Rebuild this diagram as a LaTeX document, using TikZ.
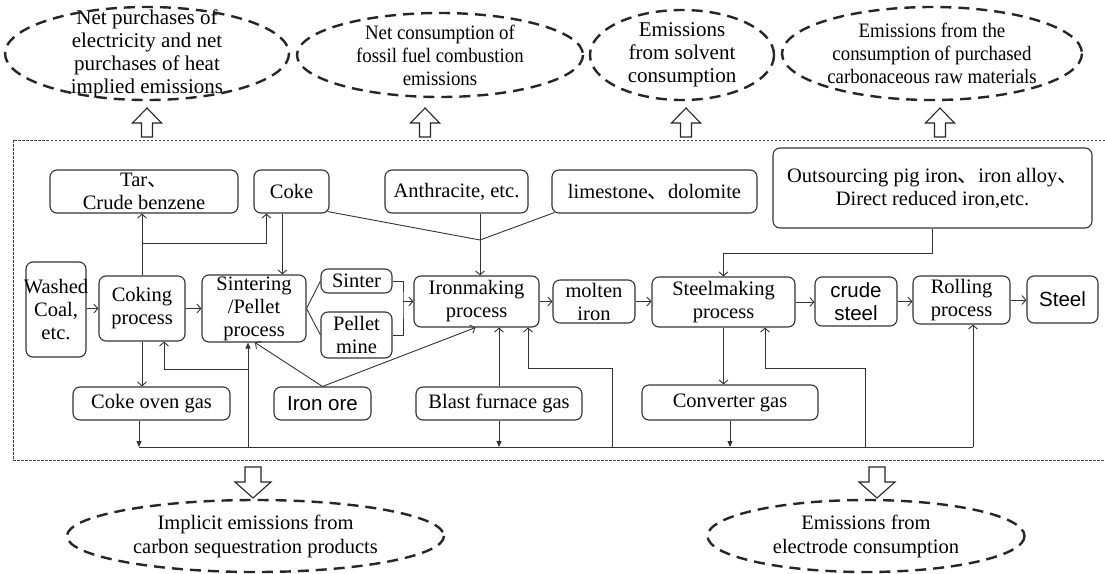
\documentclass[tikz,border=0pt]{standalone}
\usepackage{fontspec}
\setmainfont{Liberation Serif}
\newfontfamily\arialfont{Liberation Sans}
\newfontfamily\narrowfont[FakeStretch=0.92]{Liberation Serif}
\newfontfamily\cjkfont{Noto Sans CJK SC}
\newcommand\dunhao{{\cjkfont 、}}
\usetikzlibrary{arrows.meta}
\usetikzlibrary{calc}

\begin{document}
\begin{tikzpicture}[x=1pt,y=-1pt,
	box/.style={draw=black!80,line width=1.1pt,rounded corners=7pt,inner sep=0pt,align=center,font=\fontsize{20.5}{23}\selectfont},
	emis/.style={inner sep=0pt,align=center,font=\fontsize{21}{23}\selectfont},
	ring/.style={draw=black!85,dash pattern=on 11pt off 7pt,line width=2.4pt},
	wire/.style={draw=black!80,line width=0.9pt},
	arr/.style={wire,-{Straight Barb[length=4pt,width=9pt]}},
	farr/.style={wire,-{Triangle[length=6pt,width=5pt]}},
	hollow/.style={draw=black!85,line width=1.1pt,fill=white},
	frame/.style={draw=black!75,line width=0.8pt,dash pattern=on 2.5pt off 1.5pt}]
	\useasboundingbox (0,0) rectangle (1105,573);
	\draw (147,53.5) node (e1) [emis] {Net purchases of\\electricity and net\\purchases of heat\\implied emissions};
	\draw (440,55) node (e2) [emis,font=\narrowfont\fontsize{20.5}{23}\selectfont] {Net consumption of\\fossil fuel combustion\\emissions};
	\draw (682,55) node (e3) [emis] {Emissions\\from solvent\\consumption};
	\draw (932,53.5) node (e4) [emis,font=\narrowfont\fontsize{20.5}{23}\selectfont] {Emissions from the\\consumption of purchased\\carbonaceous raw materials};
	\draw (255.5,536) node (e5) [emis,font=\fontsize{20.5}{24}\selectfont] {Implicit emissions from\\carbon sequestration products};
	\draw (866,536) node (e6) [emis,font=\fontsize{20.5}{24}\selectfont] {Emissions from\\electrode consumption};
	\foreach \e/\rx/\ry in {e1/142/46.5,e2/143/42,e3/92/45,e4/150/46.5,e5/188.5/36,e6/158.5/36}
		\draw[ring] (\e) ellipse [x radius=\rx,y radius=\ry];
	\foreach \x in {147,425,686,940}
		\draw[hollow] (\x,137) ++(-5.5,0) -- ++(0,-14) -- ++(-9,0) -- ++(14.5,-15) -- ++(14.5,15) -- ++(-9,0) -- ++(0,14) -- cycle;
	\foreach \x in {253,877}
		\draw[hollow] (\x,467) ++(-8,0) -- ++(0,15) -- ++(-10,0) -- ++(18,16) -- ++(18,-16) -- ++(-10,0) -- ++(0,-15) -- cycle;
	\draw[frame] (1105,140) -- (13,140) -- (13,460) -- (1105,460);

	\draw (144,191.5) node (tar) [box,minimum width=188,minimum height=43] {Tar\dunhao\\Crude benzene};
	\draw (291.5,191.5) node (coke) [box,minimum width=75,minimum height=43] {Coke};
	\draw (456.5,191.5) node (anth) [box,minimum width=143,minimum height=43] {Anthracite, etc.};
	\draw (654.5,191.5) node (lime) [box,minimum width=205,minimum height=43] {limestone\dunhao dolomite};
	\draw (932.5,188) node (outs) [box,minimum width=319,minimum height=80] {Outsourcing pig iron\dunhao iron alloy\dunhao\\Direct reduced iron,etc.};

	\draw (56,309.5) node (washed) [box,minimum width=60,minimum height=95] {\makebox[0pt]{Washed}\\Coal,\\etc.};
	\draw (142,308.5) node (coking) [box,minimum width=86,minimum height=65] {Coking\\process};
	\draw (254,308.5) node (sint) [box,minimum width=104,minimum height=67] {Sintering\\/Pellet\\process};
	\draw (356.5,281) node (sinter) [box,minimum width=71,minimum height=24] {Sinter};
	\draw (356.5,335) node (pellet) [box,minimum width=71,minimum height=46] {Pellet\\mine};
	\draw (476.5,301.5) node (ironmk) [box,minimum width=125,minimum height=51] {Ironmaking\\process};
	\draw (594,301.5) node (molten) [box,minimum width=82,minimum height=43] {molten\\iron};
	\draw (723.5,302) node (steelmk) [box,minimum width=143,minimum height=50] {Steelmaking\\process};
	\draw (856,301.5) node (crude) [box,minimum width=82,minimum height=49,font=\arialfont\fontsize{20.5}{23}\selectfont] {crude\\steel};
	\draw (961.5,300) node (rolling) [box,minimum width=97,minimum height=48] {Rolling\\process};
	\draw (1062.5,299.5) node (steel) [box,minimum width=71,minimum height=47,font=\arialfont\fontsize{20.5}{23}\selectfont] {Steel};

	\draw (151.5,403.5) node (cog) [box,minimum width=157,minimum height=33] {Coke oven gas};
	\draw (322.5,403.5) node (ore) [box,minimum width=97,minimum height=33,font=\arialfont\fontsize{20.5}{23}\selectfont] {Iron ore};
	\draw (499,403.5) node (bfg) [box,minimum width=166,minimum height=33] {Blast furnace gas};
	\draw (730,402.5) node (cvg) [box,minimum width=176,minimum height=35] {Converter gas};

	\coordinate (tj) at (142,243);
	\coordinate (ij) at (480,240);
	\coordinate (sj) at (403,301.5);
	\coordinate (busl) at (139,447);
	\coordinate (busr) at (973,447);

	\draw[arr] (washed.east |- coking.west) -- (coking.west);
	\draw[arr] (coking.east) -- (sint.west);
	\draw[arr] (coking.north) -- (coking.north |- tar.south);
	\draw[arr] (tj) -| ([xshift=13pt]coke.south west);
	\draw[arr] ([xshift=29pt]coke.south west) -- ([xshift=29pt]coke.south west |- sint.north);
	\draw[wire] ([xshift=-2pt,yshift=2pt]coke.south east) -- (ij);
	\draw[wire] ([xshift=3pt,yshift=1pt]lime.south west) -- (ij);
	\draw[wire] (ij |- anth.south) -- (ij);
	\draw[arr] (ij) -- (ij |- ironmk.north);
	\draw[wire] (sint.east) -- (sinter.west);
	\draw[wire] (sint.east) -- (pellet.west);
	\draw[wire] (sinter.east) -| (sj) |- (pellet.east);
	\draw[arr] (sj) -- (ironmk.west);
	\foreach \a/\b in {ironmk/molten,molten/steelmk,steelmk/crude,crude/rolling,rolling/steel}
		\draw[arr] (\a.east) -- (\a.east -| \b.west);
	\draw[arr] (outs.south) -- ++(0,25) -| (steelmk.north);

	\draw[arr] (coking.south) -- (coking.south |- cog.north);
	\draw[wire] (busl) -- (busr);
	\draw[farr] (busl |- cog.south) -- (busl);
	\draw[farr] ([xshift=-6pt]sint.south |- busl) -- ([xshift=-6pt]sint.south);
	\draw[arr] ([xshift=-6pt]sint.south |- 0,369) -| ([xshift=22pt]coking.south);
	\draw[arr] (ore.north) -- ([xshift=1pt]sint.south);
	\draw[arr] (ore.north) -- ([xshift=-1pt]ironmk.south);
	\draw[arr] (bfg.north) -- (bfg.north |- ironmk.south);
	\draw[farr] (bfg.south) -- (bfg.south |- busl);
	\draw[arr] ([xshift=18pt]molten.south |- busl) -- ++(0,-79) -| ([xshift=51.5pt]ironmk.south);
	\draw[arr] (steelmk.south) -- (steelmk.south |- cvg.north);
	\draw[farr] (cvg.south) -- (cvg.south |- busl);
	\draw[arr] ([xshift=9pt]crude.south |- busl) -- ++(0,-79) -| ([xshift=41.5pt]steelmk.south);
	\draw[arr] (busr) -- (busr |- rolling.south);
\end{tikzpicture}
\end{document}
